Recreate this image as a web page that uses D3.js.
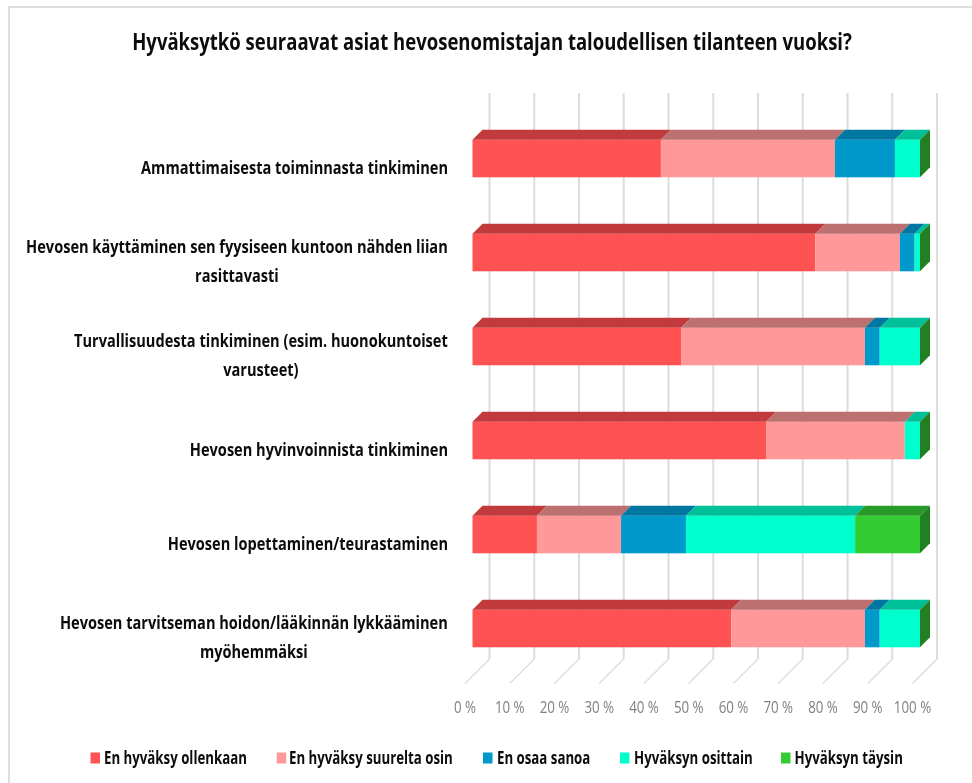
<!DOCTYPE html>
<html><head><meta charset="utf-8">
<script src="https://cdn.jsdelivr.net/npm/d3@7"></script>
<style>html,body{margin:0;padding:0;background:#fff}svg{display:block}text{filter:blur(0.35px)}</style></head>
<body><svg id="c" width="972" height="783"></svg>
<script>
const titleText = "Hyväksytkö seuraavat asiat hevosenomistajan taloudellisen tilanteen vuoksi?";
const categories = [
  ["Ammattimaisesta toiminnasta tinkiminen"],
  ["Hevosen käyttäminen sen fyysiseen kuntoon nähden liian","rasittavasti"],
  ["Turvallisuudesta tinkiminen (esim. huonokuntoiset","varusteet)"],
  ["Hevosen hyvinvoinnista tinkiminen"],
  ["Hevosen lopettaminen/teurastaminen"],
  ["Hevosen tarvitseman hoidon/lääkinnän lykkääminen","myöhemmäksi"]
];
const seriesNames = ["En hyväksy ollenkaan","En hyväksy suurelta osin","En osaa sanoa","Hyväksyn osittain","Hyväksyn täysin"];
const enHyvaksy   = [42.1,76.6,46.6,65.6,14.4,57.8];
const suureltaOsin= [38.9,18.9,41.1,31.0,18.8,29.9];
const enOsaa      = [13.4, 3.3, 3.3, 0.0,14.5, 3.3];
const osittain    = [ 5.6, 1.2, 9.0, 3.4,37.8, 9.0];
const taysin      = [ 0.0, 0.0, 0.0, 0.0,14.5, 0.0];
const seriesValues = [enHyvaksy,suureltaOsin,enOsaa,osittain,taysin];
const frontColors = ["#ff5252","#ff9999","#0099cc","#00ffcc","#33cc33"];
const topColors   = ["#c13b3d","#bd7070","#0077a0","#00c09a","#289a28"];
const sideColor   = "#218022";
const ticks = d3.range(0,101,10);
const font = "'Open Sans','Noto Sans',sans-serif";

const svg = d3.select("#c");
const frame = svg.append("g").attr("stroke","#dedede").attr("stroke-width",2);
frame.append("line").attr("x1",9).attr("y1",7).attr("x2",9).attr("y2",783);
frame.append("line").attr("x1",8).attr("y1",7).attr("x2",972).attr("y2",7);

const x = d3.scaleLinear().domain([0,100]).range([472.5,920]);
const y = d3.scalePoint().domain(d3.range(categories.length)).range([139.7,609.7]);
const barH = 37.6, dx = 10, dy = 10;

const squeezed = (sel,px,py,sx)=>sel.attr("transform",`translate(${px},${py}) scale(${sx},1)`);

ticks.forEach(t=>{
  const xb = x(t)+17;
  svg.append("line").attr("x1",xb).attr("y1",93).attr("x2",xb).attr("y2",659).attr("stroke","#dcdcdc").attr("stroke-width",2);
  svg.append("line").attr("x1",xb).attr("y1",659).attr("x2",x(t)-7.5).attr("y2",683.5).attr("stroke","#dcdcdc").attr("stroke-width",1.3);
  squeezed(svg.append("text"),x(t)-7.5,713,0.86).attr("text-anchor","middle")
    .attr("font-family",font).attr("font-size",15.5).attr("fill","#7f7f7f").text(t+" %");
});

const bars = svg.append("g");
categories.forEach((c,i)=>{
  let acc=0;
  const y0=y(i);
  seriesValues.forEach((vals,s)=>{
    const a=acc,b=acc+vals[i]; acc=b;
    if(vals[i]<=0) return;
    const xa=x(a),xb=x(b);
    bars.append("rect").attr("x",xa).attr("y",y0).attr("width",xb-xa).attr("height",barH).attr("fill",frontColors[s]);
    bars.append("path").attr("d",`M${xa},${y0}L${xa+dx},${y0-dy}L${xb+dx},${y0-dy}L${xb},${y0}Z`).attr("fill",topColors[s]);
  });
  const xe=x(100);
  bars.append("path").attr("d",`M${xe},${y0}L${xe+dx},${y0-dy}L${xe+dx},${y0+barH-dy}L${xe},${y0+barH}Z`).attr("fill",sideColor);
  const mid=y0+barH/2, lh=29, sx=0.81, fs=18;
  if(c.length===1){
    squeezed(svg.append("text"),448,mid+15,sx).attr("text-anchor","end").attr("font-family",font).attr("font-weight",700).attr("font-size",fs).attr("fill","#0c0c0c").text(c[0]);
  } else {
    const probe=svg.append("text").attr("font-family",font).attr("font-weight",700).attr("font-size",fs).text(c[0]);
    const cx=448-probe.node().getComputedTextLength()*sx/2; probe.remove();
    c.forEach((line,k)=>{
      squeezed(svg.append("text"),cx,mid+15+(k-.5)*lh,sx).attr("text-anchor","middle").attr("font-family",font).attr("font-weight",700).attr("font-size",fs).attr("fill","#0c0c0c").text(line);
    });
  }
});

squeezed(svg.append("text"),492,50,0.805).attr("text-anchor","middle").attr("font-family",font).attr("font-weight",700).attr("font-size",23).attr("fill","#0c0c0c").text(titleText);

const lx=[90.5,276.7,483,620,781], tx=[104,289,497,634,794.5];
seriesNames.forEach((n,i)=>{
  svg.append("rect").attr("x",lx[i]).attr("y",752.5).attr("width",9.5).attr("height",11).attr("fill",frontColors[i]);
  squeezed(svg.append("text"),tx[i],764,0.78).attr("font-family",font).attr("font-weight",700).attr("font-size",17).attr("fill","#0c0c0c").text(n);
});
</script></body></html>
